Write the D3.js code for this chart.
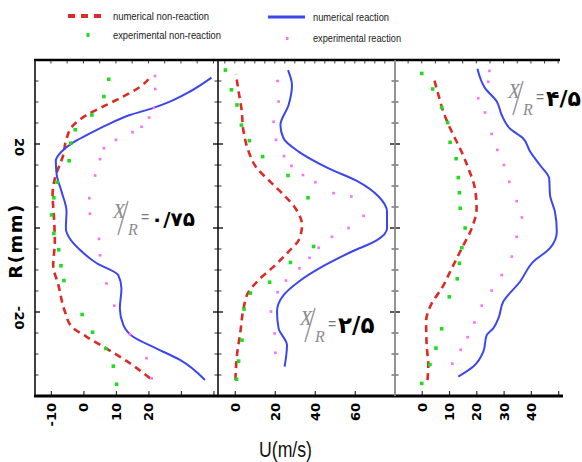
<!DOCTYPE html>
<html>
<head>
<meta charset="utf-8">
<script src="https://cdn.jsdelivr.net/npm/d3@7"></script>
<style>
  body { margin: 0; background: #fff; }
  svg { display: block; }
</style>
</head>
<body>
<script>
// Axial velocity profiles U(R) at three stations, with and without reaction.
// Each profile is a list of [R (mm), U (m/s)] pairs.

const stationLabels = ["۰/۷۵", "۲/۵", "۴/۵"];
const seriesNames = ["numerical non-reaction", "experimental non-reaction",
                     "numerical reaction", "experimental reaction"];

// Station X/R = 0.75
const numNonReact1 = [[36.3,21.0],[33.6,17.4],[31.3,12.2],[29.3,7.1],[26.9,1.0],[24.5,-3.1],[21.3,-5.2],
  [17.4,-6.2],[11.8,-8.8],[7.9,-9.5],[3.1,-9.1],[-3.3,-8.8],[-8.8,-9.3],[-13.6,-7.7],[-19.9,-5.7],
  [-23.5,-3.6],[-25.9,1.0],[-28.7,7.1],[-32.2,14.3],[-35.8,20.5]];
const expNonReact1 = [[35.4,7.8],[31.3,6.3],[26.9,2.6],[23.4,-2.5],[20.2,-3.9],[16.0,-4.4],[10.9,-8.1],
  [7.2,-9.1],[3.1,-9.8],[-1.3,-9.1],[-5.2,-7.6],[-9.0,-6.9],[-12.5,-6.0],[-20.6,-0.4],[-24.8,2.8],
  [-28.7,6.9],[-32.9,9.2],[-37.2,10.2]];
const numReact1 = [[35.8,39.4],[32.5,32.8],[30.1,26.6],[28.6,21.5],[26.9,14.3],[24.5,7.1],[22.1,1.0],
  [20.4,-3.1],[18.2,-6.7],[16.0,-8.5],[12.6,-8.2],[8.6,-6.7],[3.9,-5.2],[-0.1,-5.4],[-2.5,-4.2],
  [-5.2,-1.1],[-8.4,4.1],[-11.2,10.7],[-14.4,11.7],[-19.1,11.2],[-23.1,12.3],[-25.9,15.3],
  [-28.7,22.5],[-31.4,29.7],[-36.2,37.4]];
const expReact1 = [[36.2,22.0],[33.1,22.1],[28.6,21.7],[26.3,20.2],[24.1,17.9],[22.8,15.1],[21.0,10.0],
  [19.0,6.3],[16.4,5.1],[12.5,3.6],[7.1,1.8],[3.4,2.0],[-2.6,4.8],[-6.5,5.1],[-13.2,7.1],
  [-18.5,9.5],[-25.3,14.3],[-31.0,19.4],[-35.8,21.0]];

// Station X/R = 2.5
const numNonReact2 = [[36.6,0.6],[32.5,1.9],[28.5,3.3],[22.9,4.4],[18.2,6.9],[14.2,11.1],[11.0,17.8],
  [7.9,24.4],[4.7,30.3],[0.7,33.6],[-2.9,31.9],[-5.6,26.9],[-9.2,19.4],[-12.4,11.9],[-15.2,6.9],
  [-19.1,4.4],[-24.7,2.8],[-30.2,1.1],[-36.2,0.3]];
const expNonReact2 = [[37.6,-4.7],[32.9,-1.7],[29.3,1.1],[24.5,3.3],[20.8,7.3],[17.0,13.9],[12.5,26.6],
  [7.2,36.6],[-4.4,39.4],[-8.2,27.8],[-12.9,17.4],[-15.5,7.8],[-19.3,4.6],[-26.7,3.6],[-31.7,1.9],
  [-36.0,0.9]];
const numReact2 = [[37.6,26.6],[34.0,28.6],[29.3,26.9],[24.5,22.8],[21.3,24.4],[18.2,31.9],[14.2,46.9],
  [11.0,61.9],[7.5,71.9],[3.9,76.1],[-0.1,76.1],[-2.9,71.1],[-5.6,58.6],[-8.8,45.3],[-12.8,31.9],
  [-16.0,24.4],[-19.9,21.1],[-23.9,21.9],[-27.9,26.1],[-33.0,24.9]];
const expReact2 = [[35.0,21.4],[30.1,21.9],[25.3,19.4],[21.0,20.6],[17.1,24.6],[14.8,28.3],[12.6,34.1],
  [10.9,40.3],[8.3,49.4],[7.5,58.3],[2.9,64.4],[0.0,56.9],[-2.1,48.6],[-4.7,41.9],[-7.1,37.4],
  [-9.6,32.3],[-12.5,25.6],[-15.3,21.4],[-19.9,18.1],[-25.1,19.9],[-29.7,20.3]];

// Station X/R = 4.5
const numNonReact3 = [[36.0,4.3],[31.7,6.1],[27.7,7.9],[22.9,11.0],[19.0,14.0],[14.2,17.1],[9.4,19.5],
  [4.7,20.1],[-0.1,18.3],[-4.8,14.7],[-9.6,11.0],[-14.4,7.3],[-17.9,3.7],[-22.3,1.6],[-27.9,1.8],
  [-32.6,2.4],[-36.2,2.1]];
const expNonReact3 = [[36.8,0.0],[33.1,4.0],[28.7,7.3],[25.1,9.5],[20.4,10.4],[16.5,12.6],[12.0,13.4],
  [8.4,13.8],[4.7,14.1],[0.0,15.9],[-4.7,14.7],[-8.4,13.8],[-12.1,13.0],[-16.4,10.1],[-24.0,7.3],
  [-28.6,5.2],[-32.5,3.0],[-37.0,0.0]];
const numReact3 = [[37.9,20.4],[33.3,23.2],[30.1,27.5],[26.9,29.3],[23.7,32.3],[21.3,37.2],[18.2,39.7],
  [15.0,43.3],[11.8,46.7],[7.9,47.0],[3.9,48.8],[-0.9,49.5],[-4.8,47.0],[-8.0,40.9],[-12.8,36.0],
  [-17.5,29.9],[-21.5,28.1],[-23.9,26.2],[-25.5,23.8],[-29.4,22.6],[-33.0,18.9],[-35.4,13.4]];
const expReact3 = [[37.4,24.8],[34.8,24.4],[30.9,20.7],[27.5,23.2],[22.4,25.6],[18.6,27.7],[15.0,30.1],
  [11.0,32.1],[6.4,34.8],[2.5,36.7],[-2.1,34.8],[-6.8,33.0],[-11.2,29.3],[-14.9,25.6],[-18.5,22.0],
  [-22.5,19.3],[-26.0,16.8],[-29.0,14.3],[-32.3,11.2]];

// Axis ticks
const uTickLabels = [[-10, 0, 10, 20], [0, 20, 40, 60], [0, 10, 20, 30, 40]];
const uTickSteps = [10, 20, 10];
const rTickLabels = [20, -20];

const W = 582, H = 462;
const plotTop = 60, plotBottom = 396;

const svg = d3.select("body").append("svg")
  .attr("width", W).attr("height", H)
  .attr("viewBox", `0 0 ${W} ${H}`);

const y = d3.scaleLinear().domain([-40, 40]).range([plotBottom, plotTop]);

const colors = { numNon: "#dc2a24", expNon: "#1fdc1f", numR: "#3b46ee", expR: "#ff6cf5" };

const panels = [
  { x0: 35, x1: 218, dom: [-14.9, 41.4],
    series: [numNonReact1, expNonReact1, numReact1, expReact1],
    note: { x: 113, y: 218, size: 20 } },
  { x0: 218, x1: 395, dom: [-8.4, 80.1],
    series: [numNonReact2, expNonReact2, numReact2, expReact2],
    note: { x: 300, y: 325, size: 23 } },
  { x0: 395, x1: 562, dom: [-9.8, 51.4],
    series: [numNonReact3, expNonReact3, numReact3, expReact3],
    note: { x: 508, y: 98, size: 22 } }
];

const defs = svg.append("defs");
const rMinor = d3.range(-35, 40, 5);

panels.forEach((p, i) => {
  const x = d3.scaleLinear().domain(p.dom).range([p.x0, p.x1]);
  const clipId = "clip" + i;
  defs.append("clipPath").attr("id", clipId)
    .append("rect").attr("x", p.x0).attr("y", plotTop)
    .attr("width", p.x1 - p.x0).attr("height", plotBottom - plotTop);

  const g = svg.append("g");

  // Inward ticks on the left and right edges of the panel
  const edge = g.append("g").attr("stroke", "#333");
  rMinor.forEach(r => {
    const major = r % 20 === 0;
    const len = major ? 5 : 3.5;
    edge.append("line").attr("x1", p.x0).attr("x2", p.x0 + len)
      .attr("y1", y(r)).attr("y2", y(r)).attr("stroke-width", major ? 1.6 : 1);
    if (i < 2) {
      edge.append("line").attr("x1", p.x1).attr("x2", p.x1 - len)
        .attr("y1", y(r)).attr("y2", y(r)).attr("stroke-width", major ? 1.6 : 1);
    }
  });

  // Top (minor) and bottom (major) ticks along U
  const step = uTickSteps[i];
  const minorStep = 5;
  d3.range(Math.ceil(p.dom[0] / minorStep) * minorStep, p.dom[1], minorStep).forEach(u => {
    if (x(u) <= p.x0 + 2 || x(u) >= p.x1 - 2) return;
    g.append("line").attr("x1", x(u)).attr("x2", x(u)).attr("y1", plotTop).attr("y2", plotTop + 3.5)
      .attr("stroke", "#444").attr("stroke-width", 1);
  });
  const bottomAxis = d3.axisBottom(x)
    .tickValues(d3.range(Math.ceil(p.dom[0] / step) * step, p.dom[1], step)
      .filter(u => x(u) > p.x0 + 2 && x(u) < p.x1 - 2))
    .tickSize(-5).tickFormat("");
  g.append("g").attr("transform", `translate(0,${plotBottom})`).call(bottomAxis)
    .call(a => a.select(".domain").remove())
    .call(a => a.selectAll("line").attr("stroke", "#333").attr("stroke-width", 1.2));

  // Tick labels, rotated
  uTickLabels[i].forEach(u => {
    svg.append("text")
      .attr("transform", `translate(${x(u) + 5},403) rotate(-90)`)
      .attr("text-anchor", "end")
      .attr("font-family", "DejaVu Sans, sans-serif")
      .attr("font-weight", "bold").attr("font-size", 13)
      .attr("fill", "#000")
      .text(u);
  });

  // Curves and points
  const plot = g.append("g").attr("clip-path", `url(#${clipId})`);
  const line = d3.line().x(d => x(d[1])).y(d => y(d[0])).curve(d3.curveMonotoneY);
  const sorted = s => s.slice().sort((a, b) => a[0] - b[0]);

  plot.append("path").datum(sorted(p.series[0]))
    .attr("d", line).attr("fill", "none").attr("stroke", colors.numNon)
    .attr("stroke-width", 2.6).attr("stroke-dasharray", "7,5");
  plot.append("path").datum(sorted(p.series[2]))
    .attr("d", line).attr("fill", "none").attr("stroke", colors.numR)
    .attr("stroke-width", 2);
  plot.selectAll(".expNon").data(p.series[1]).join("rect")
    .attr("x", d => x(d[1]) - 1.8).attr("y", d => y(d[0]) - 1.8)
    .attr("width", 3.6).attr("height", 3.6).attr("fill", colors.expNon);
  plot.selectAll(".expR").data(p.series[3]).join("rect")
    .attr("x", d => x(d[1]) - 1.3).attr("y", d => y(d[0]) - 1.3)
    .attr("width", 2.6).attr("height", 2.6).attr("fill", colors.expR);

  // Station label X/R = ...
  const n = p.note;
  const a = svg.append("g").attr("transform", `translate(${n.x},${n.y})`);
  a.append("text").attr("x", 0).attr("y", 0)
    .attr("font-family", "Liberation Serif, serif").attr("font-style", "italic")
    .attr("font-size", 20).attr("fill", "#8c8c8c").text("X");
  a.append("line").attr("x1", 15).attr("y1", -17).attr("x2", 5).attr("y2", 17)
    .attr("stroke", "#9a9a9a").attr("stroke-width", 1.5);
  a.append("text").attr("x", 15).attr("y", 17)
    .attr("font-family", "Liberation Serif, serif").attr("font-style", "italic")
    .attr("font-size", 16).attr("fill", "#8c8c8c").text("R");
  a.append("text").attr("x", 28).attr("y", 4)
    .attr("font-family", "Liberation Sans, sans-serif")
    .attr("font-size", 14).attr("fill", "#777").text("=");
  a.append("text").attr("x", 38).attr("y", 8)
    .attr("font-family", "DejaVu Sans, sans-serif").attr("font-weight", "bold")
    .attr("font-size", n.size).attr("fill", "#000").text(stationLabels[i]);
});

// Frame
const frame = svg.append("g").attr("fill", "none");
frame.append("line").attr("x1", 34).attr("x2", 560).attr("y1", plotTop).attr("y2", plotTop)
  .attr("stroke", "#000").attr("stroke-width", 2.5);
frame.append("line").attr("x1", 34).attr("x2", 563).attr("y1", plotBottom).attr("y2", plotBottom)
  .attr("stroke", "#000").attr("stroke-width", 3);
frame.append("line").attr("x1", 35).attr("x2", 35).attr("y1", plotTop).attr("y2", plotBottom)
  .attr("stroke", "#111").attr("stroke-width", 1.6);
frame.append("line").attr("x1", 218).attr("x2", 218).attr("y1", plotTop).attr("y2", plotBottom)
  .attr("stroke", "#111").attr("stroke-width", 1.6);
frame.append("line").attr("x1", 395).attr("x2", 395).attr("y1", plotTop).attr("y2", plotBottom)
  .attr("stroke", "#888").attr("stroke-width", 1.8);

// R tick labels (left)
rTickLabels.forEach(r => {
  svg.append("text")
    .attr("transform", `translate(20,${y(r) - 6}) rotate(90)`)
    .attr("text-anchor", "start").attr("dy", "0.35em")
    .attr("font-family", "DejaVu Sans, sans-serif")
    .attr("font-weight", "bold").attr("font-size", 13)
    .text(r);
});

// Axis titles
svg.append("text")
  .attr("transform", "translate(22,241) rotate(-90)")
  .attr("text-anchor", "middle")
  .attr("font-family", "DejaVu Sans, sans-serif").attr("font-weight", "bold")
  .attr("font-size", 18).attr("letter-spacing", 1.5)
  .text("R(mm)");
svg.append("text")
  .attr("x", 259).attr("y", 457)
  .attr("font-family", "Liberation Sans Narrow, Liberation Sans, sans-serif")
  .attr("font-size", 22).attr("fill", "#111")
  .attr("textLength", 53).attr("lengthAdjust", "spacingAndGlyphs")
  .text("U(m/s)");

// Legend
const lg = svg.append("g");
const legendFont = "Liberation Sans Narrow, Liberation Sans, sans-serif";
lg.append("line").attr("x1", 68).attr("x2", 103).attr("y1", 16).attr("y2", 16)
  .attr("stroke", colors.numNon).attr("stroke-width", 4).attr("stroke-dasharray", "7,6");
lg.append("rect").attr("x", 86.5).attr("y", 33).attr("width", 3).attr("height", 4).attr("fill", colors.expNon);
lg.append("line").attr("x1", 268).attr("x2", 305).attr("y1", 17).attr("y2", 17)
  .attr("stroke", colors.numR).attr("stroke-width", 3);
lg.append("rect").attr("x", 286).attr("y", 37).attr("width", 2.5).attr("height", 3).attr("fill", colors.expR);

const legendText = [
  { x: 113, y: 20, len: 96, t: seriesNames[0] },
  { x: 113, y: 39, len: 108, t: seriesNames[1] },
  { x: 313, y: 21, len: 76, t: seriesNames[2] },
  { x: 313, y: 42, len: 88, t: seriesNames[3] }
];
legendText.forEach(d => {
  lg.append("text").attr("x", d.x).attr("y", d.y)
    .attr("font-family", legendFont).attr("font-size", 11).attr("fill", "#222")
    .attr("textLength", d.len).attr("lengthAdjust", "spacingAndGlyphs")
    .text(d.t);
});
</script>
</body>
</html>
